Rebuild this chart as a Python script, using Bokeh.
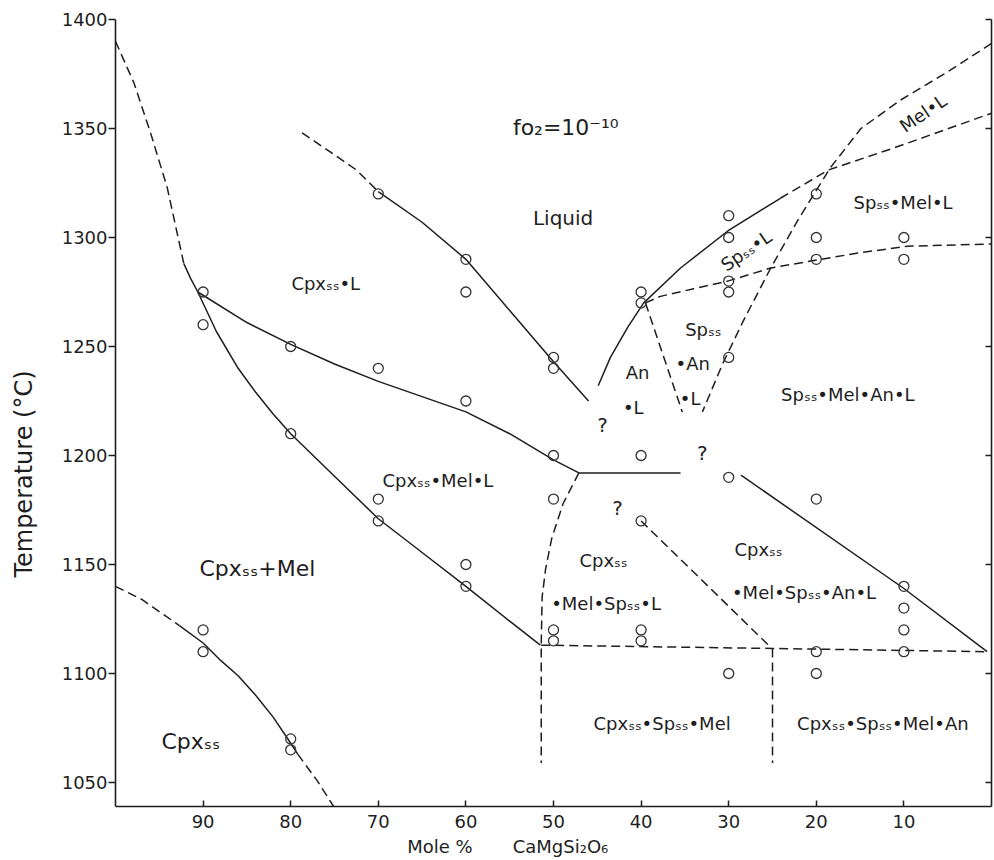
from bokeh.plotting import figure
from bokeh.models import Range1d, LinearAxis, FixedTicker, ColumnDataSource
from bokeh.core.properties import value
from bokeh.embed import file_html
from bokeh.resources import INLINE

FONT = "DejaVu Sans"
INK = "#1e1e1e"
NBSP = "\u00a0"

# ---------------- axes ----------------
x_ticks = [90, 80, 70, 60, 50, 40, 30, 20, 10]
y_ticks = [1050, 1100, 1150, 1200, 1250, 1300, 1350, 1400]
x_title_left = "Mole %"
x_title_right = "CaMgSi₂O₆"
y_title = "Temperature (°C)"

# ---------------- experimental runs (open circles) ----------------
run_x = [90, 90, 90, 90,
         80, 80, 80, 80,
         70, 70, 70, 70,
         60, 60, 60, 60, 60,
         50, 50, 50, 50, 50, 50,
         40, 40, 40, 40, 40, 40,
         30, 30, 30, 30, 30, 30, 30,
         20, 20, 20, 20, 20, 20,
         10, 10, 10, 10, 10, 10]
run_t = [1275, 1260, 1120, 1110,
         1250, 1210, 1070, 1065,
         1320, 1240, 1180, 1170,
         1290, 1275, 1225, 1150, 1140,
         1245, 1240, 1200, 1180, 1120, 1115,
         1275, 1270, 1200, 1170, 1120, 1115,
         1310, 1300, 1280, 1275, 1245, 1190, 1100,
         1320, 1300, 1290, 1180, 1110, 1100,
         1300, 1290, 1140, 1130, 1120, 1110]

# ---------------- phase boundaries ----------------
liq_cpx_dash_x = [100, 97.9, 96.0, 94.1, 92.2]
liq_cpx_dash_t = [1390, 1371, 1348, 1323, 1288]
liq_cpx_solid_x = [92.2, 91.4, 90.6]
liq_cpx_solid_t = [1288, 1281, 1275]
cpx_solidus_x = [90.6, 88.5, 86, 84, 82, 80, 75, 70, 65, 60, 55, 51.5]
cpx_solidus_t = [1275, 1257, 1240, 1229, 1219, 1210, 1190.5, 1171, 1155.5, 1140, 1124, 1113]
mel_in_x = [90.6, 85, 80, 75, 70, 65, 60, 55, 50, 47.1]
mel_in_t = [1275, 1261, 1251, 1242, 1234, 1227, 1220, 1210, 1198, 1192]
inv_x = [47.1, 35.5]
inv_t = [1192, 1192]
cpx_sp_x = [47.1, 48.9, 50.2, 50.9, 51.3, 51.4, 51.4]
cpx_sp_t = [1192, 1178, 1162, 1148, 1135, 1113, 1059]
liq_up_dash_x = [78.7, 75.4, 72.5, 70]
liq_up_dash_t = [1348, 1339, 1331, 1321]
liq_up_solid_x = [70, 65, 60, 55, 50, 46]
liq_up_solid_t = [1321, 1307, 1290, 1266.5, 1243, 1225]
liq_an_solid_x = [44.9, 43.5, 41.5, 39.7, 35.5, 30.1, 24.1]
liq_an_solid_t = [1232, 1245, 1259, 1270, 1286, 1303, 1318]
liq_an_dash_x = [24.1, 18.6, 11.2, 0]
liq_an_dash_t = [1318, 1331, 1341, 1357]
mel_liq_x = [0, 5, 10.4, 14.9, 18.4, 22.1, 25.2, 28.3, 30.7, 33]
mel_liq_t = [1389, 1376, 1363, 1350, 1332, 1308, 1286, 1262, 1242, 1220]
sp_mel_x = [39.5, 37.8, 34, 30.1, 25.2, 19.5, 15, 9.6, 0]
sp_mel_t = [1270, 1273, 1276.5, 1280, 1286, 1290, 1293, 1296, 1297]
wedge_x = [39.5, 35.3]
wedge_t = [1270, 1220]
an_sol_x = [28.6, 10, 0.5]
an_sol_t = [1191, 1139, 1110]
diag_x = [40, 25.2]
diag_t = [1170, 1112]
sol_x = [51.4, 25, 0.5]
sol_t = [1113, 1111.5, 1110]
vert_x = [25, 25]
vert_t = [1111.5, 1059]
solv_dash1_x = [100, 97, 94.5, 92.7]
solv_dash1_t = [1140, 1134, 1127, 1122]
solv_solid_x = [92.7, 90, 88, 86, 84, 82, 80, 79.2]
solv_solid_t = [1122, 1114, 1106, 1099, 1090, 1080, 1068, 1063]
solv_dash2_x = [79.2, 77, 75.1]
solv_dash2_t = [1063, 1051, 1039]

solid_curves = [(liq_cpx_solid_x, liq_cpx_solid_t), (cpx_solidus_x, cpx_solidus_t),
                (mel_in_x, mel_in_t), (inv_x, inv_t), (liq_up_solid_x, liq_up_solid_t),
                (liq_an_solid_x, liq_an_solid_t), (an_sol_x, an_sol_t),
                (solv_solid_x, solv_solid_t)]
dashed_curves = [(liq_cpx_dash_x, liq_cpx_dash_t), (cpx_sp_x, cpx_sp_t),
                 (liq_up_dash_x, liq_up_dash_t), (liq_an_dash_x, liq_an_dash_t),
                 (mel_liq_x, mel_liq_t), (sp_mel_x, sp_mel_t), (wedge_x, wedge_t),
                 (diag_x, diag_t), (sol_x, sol_t), (vert_x, vert_t),
                 (solv_dash1_x, solv_dash1_t), (solv_dash2_x, solv_dash2_t)]

# ---------------- field labels ----------------
label_text = ["Cpxₛₛ•L", "Cpxₛₛ•Mel•L", "Cpxₛₛ", "•Mel•Spₛₛ•L", "Cpxₛₛ",
              "•Mel•Spₛₛ•An•L", "Cpxₛₛ•Spₛₛ•Mel", "Cpxₛₛ•Spₛₛ•Mel•An",
              "Spₛₛ•Mel•An•L", "Spₛₛ•Mel•L", "An", "•L", "Spₛₛ", "•An", "•L"]
label_x = [76, 63.2, 44.3, 44, 26.6, 21.4, 37.6, 12.4, 16.4, 10.1, 40.4, 40.9,
           32.9, 34.1, 34.4]
label_t = [1279, 1188.5, 1152, 1132, 1157, 1137, 1077, 1077, 1228, 1316, 1238, 1222,
           1258, 1242, 1226]

query_text = ["?", "?", "?"]
query_x = [44.4, 42.7, 33]
query_t = [1214, 1176, 1201]

big_label_text = ["Cpxₛₛ+Mel", "Cpxₛₛ"]
big_label_x = [83.8, 91.4]
big_label_t = [1148, 1069]

rot_label_text = ["Mel•L", "Spₛₛ•L"]
rot_label_x = [7.8, 28.0]
rot_label_t = [1357, 1294]

liquid_text = ["Liquid"]
liquid_x = [48.9]
liquid_t = [1309]

fo2_text = ["fo₂=10⁻¹⁰"]
fo2_x = [48.6]
fo2_t = [1350.5]

# ---------------- figure ----------------
p = figure(width=994, height=860, x_range=Range1d(100, 0), y_range=Range1d(1039, 1400),
           output_backend="svg", toolbar_location=None,
           min_border_left=115, min_border_top=19, min_border_right=3, min_border_bottom=54)
p.xgrid.visible = False
p.ygrid.visible = False
p.outline_line_color = None
p.background_fill_color = "white"
p.border_fill_color = "white"

xa = p.xaxis[0]
xa.ticker = FixedTicker(ticks=x_ticks)
xa.major_tick_in = 6
xa.major_tick_out = 0
xa.minor_tick_line_color = None
xa.major_label_standoff = 8
xa.axis_line_width = 1.6
xa.axis_line_color = INK
xa.major_tick_line_color = INK
xa.major_tick_line_width = 1.5
xa.major_label_text_font = FONT
xa.major_label_text_font_size = "18px"
xa.major_label_text_color = INK
# title: left part, gap, formula; trailing padding shifts it left of the frame centre
xa.axis_label = x_title_left + NBSP * 7 + x_title_right + NBSP * 16
xa.axis_label_standoff = 5
xa.axis_label_text_font = FONT
xa.axis_label_text_font_size = "18px"
xa.axis_label_text_font_style = "normal"
xa.axis_label_text_color = INK

ya = p.yaxis[0]
ya.ticker = FixedTicker(ticks=y_ticks)
ya.major_tick_in = 0
ya.major_tick_out = 7
ya.minor_tick_line_color = None
ya.major_label_standoff = 1
ya.axis_line_width = 1.6
ya.axis_line_color = INK
ya.major_tick_line_color = INK
ya.major_tick_line_width = 1.5
ya.major_label_text_font = FONT
ya.major_label_text_font_size = "18px"
ya.major_label_text_color = INK
ya.axis_label = y_title + NBSP * 16
ya.axis_label_standoff = 21
ya.axis_label_text_font = FONT
ya.axis_label_text_font_size = "24px"
ya.axis_label_text_font_style = "normal"
ya.axis_label_text_color = INK

ra = LinearAxis(ticker=FixedTicker(ticks=y_ticks), major_tick_in=6, major_tick_out=0,
                minor_tick_line_color=None,
                major_label_overrides={t: "" for t in y_ticks},
                major_label_text_color=None, major_label_standoff=0,
                axis_line_width=1.6, axis_line_color=INK,
                major_tick_line_color=INK, major_tick_line_width=1.5)
p.add_layout(ra, "right")

# curves
p.multi_line(xs=[c[0] for c in solid_curves], ys=[c[1] for c in solid_curves],
             line_color=INK, line_width=1.5)
p.multi_line(xs=[c[0] for c in dashed_curves], ys=[c[1] for c in dashed_curves],
             line_color=INK, line_width=1.5, line_dash="9 5")

# runs
p.scatter(run_x, run_t, marker="circle", size=10, fill_color=None,
          line_color="#333333", line_width=1.3)


def add_text(texts, xs, ts, size, angle=0.0):
    src = ColumnDataSource(dict(x=xs, t=ts, text=texts))
    p.text(x="x", y="t", text="text", source=src, angle=angle,
           text_font=value(FONT), text_font_size=value(size), text_color=INK,
           text_align="center", text_baseline="middle")


add_text(label_text, label_x, label_t, "18px")
add_text(query_text, query_x, query_t, "20px")
add_text(big_label_text, big_label_x, big_label_t, "22px")
add_text(rot_label_text, rot_label_x, rot_label_t, "18px", angle=0.6)
add_text(liquid_text, liquid_x, liquid_t, "20px")
add_text(fo2_text, fo2_x, fo2_t, "22px")

open("out.html", "w").write(file_html(p, INLINE))
